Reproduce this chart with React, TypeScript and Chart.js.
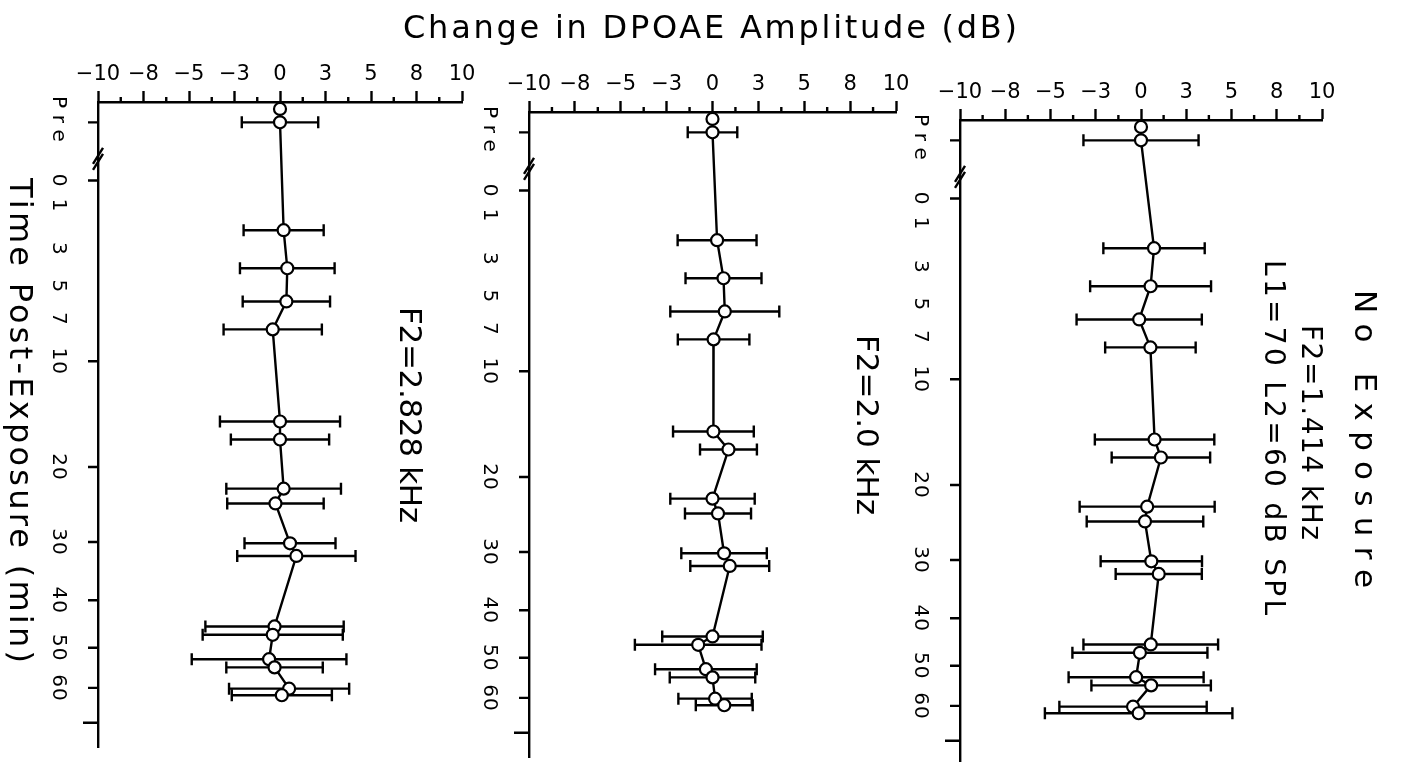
import React, { useEffect, useRef } from 'react';
import { Chart, LinearScale, registerables } from 'chart.js';

Chart.register(...registerables);

// ---------- axis transform: time axis is spaced as log10(t + 10) ----------
const TIME_SHIFT = 10;

class ShiftedLogScale extends LinearScale {
  static id = 'shiftedLog';
  getPixelForValue(value: number) {
    const a = Math.log10(this.min + TIME_SHIFT);
    const b = Math.log10(this.max + TIME_SHIFT);
    return this.getPixelForDecimal((Math.log10(value + TIME_SHIFT) - a) / (b - a));
  }
  getValueForPixel(pixel: number) {
    const a = Math.log10(this.min + TIME_SHIFT);
    const b = Math.log10(this.max + TIME_SHIFT);
    return Math.pow(10, a + this.getDecimalForPixel(pixel) * (b - a)) - TIME_SHIFT;
  }
}
Chart.register(ShiftedLogScale as any);

// ---------- data ----------
// measurement times (min); the two negative values are the "Pre" measurements
const TIMES = [-2.4, -2, 2.1, 4, 5.9, 7.7, 15.2, 17, 22.6, 24.5, 30.2, 32.2, 45.3, 47.1, 52.7, 54.7, 60.2, 62];

const F2_2828_MEAN = [0, 0, 0.2, 0.4, 0.35, -0.4, 0, 0, 0.2, -0.25, 0.55, 0.9, -0.3, -0.4, -0.6, -0.3, 0.5, 0.1];
const F2_2828_ERR = [0, 2.1, 2.2, 2.6, 2.4, 2.7, 3.3, 2.7, 3.15, 2.65, 2.5, 3.25, 3.8, 3.85, 4.25, 2.65, 3.3, 2.75];

const F2_2000_MEAN = [0, 0, 0.25, 0.6, 0.67, 0.06, 0.05, 0.87, 0, 0.3, 0.63, 0.94, 0, -0.78, -0.36, 0, 0.14, 0.64];
const F2_2000_ERR = [0, 1.35, 2.15, 2.07, 2.97, 1.95, 2.2, 1.55, 2.3, 1.8, 2.33, 2.15, 2.74, 3.45, 2.77, 2.33, 2.0, 1.55];

const F2_1414_MEAN = [0, 0, 0.72, 0.53, -0.1, 0.52, 0.75, 1.1, 0.34, 0.22, 0.57, 0.98, 0.54, -0.06, -0.27, 0.56, -0.44, -0.13];
const F2_1414_ERR = [0, 3.18, 2.8, 3.34, 3.46, 2.5, 3.3, 2.72, 3.73, 3.22, 2.8, 2.38, 3.72, 3.73, 3.73, 3.3, 4.07, 5.18];

const AMP_MIN = -10;
const AMP_MAX = 10;
const AMP_MAJOR_STEP = 2.5;
const AMP_MINOR_TICKS = [-8.75, -6.25, -3.75, -1.25, 1.25, 3.75, 6.25, 8.75];

const TIME_MIN = -2.6;
const TIME_MAX = 77.8;
const TIME_TICKS = [-2, 0, 10, 20, 30, 40, 50, 60, 70];
const TIME_LABEL_VALUES = [-2, 0, 1, 3, 5, 7, 10, 20, 30, 40, 50, 60];
const TIME_LABELS = ['Pre', '0', '1', '3', '5', '7', '10', '20', '30', '40', '50', '60'];
const BREAK_TIME = -0.8;

const TITLE = 'Change in DPOAE Amplitude (dB)';
const Y_TITLE = 'Time Post-Exposure (min)';

// ---------- layout / style ----------
const W = 1405;
const H = 780;
const X_BAND = 45;
const FAMILY = '"DejaVu Sans"';
const BIG_FONT = '32px ' + FAMILY;
const INK = '#000';
const LW = 2.4;

type TextItem = { text: string; font: string; rotated: boolean; x: number; y: number; end: number };

const PANELS = [
  {
    mean: F2_2828_MEAN, err: F2_2828_ERR,
    box: { left: 98, right: 462, top: 102, bottom: 747 },
    texts: [
      { text: TITLE, font: BIG_FONT, rotated: false, x: 403, y: 38, end: 1017 },
      { text: Y_TITLE, font: BIG_FONT, rotated: true, x: 10, y: 178, end: 663 },
      { text: 'F2=2.828 kHz', font: '31px ' + FAMILY, rotated: true, x: 400, y: 307, end: 523 },
    ] as TextItem[],
  },
  {
    mean: F2_2000_MEAN, err: F2_2000_ERR,
    box: { left: 529, right: 896, top: 112, bottom: 757 },
    texts: [
      { text: 'F2=2.0 kHz', font: '31px ' + FAMILY, rotated: true, x: 857, y: 335, end: 515 },
    ] as TextItem[],
  },
  {
    mean: F2_1414_MEAN, err: F2_1414_ERR,
    box: { left: 960, right: 1322, top: 120, bottom: 765 },
    texts: [
      { text: 'No Exposure', font: '31px ' + FAMILY, rotated: true, x: 1355, y: 290, end: 588 },
      { text: 'F2=1.414 kHz', font: '28px ' + FAMILY, rotated: true, x: 1302, y: 325, end: 540 },
      { text: 'L1=70 L2=60 dB SPL', font: '28px ' + FAMILY, rotated: true, x: 1265, y: 260, end: 615 },
    ] as TextItem[],
  },
];

function fmtAmp(v: number) {
  const r = Math.sign(v) * Math.round(Math.abs(v));
  return r < 0 ? '\u2212' + Math.abs(r) : String(r);
}

function drawFitted(ctx: CanvasRenderingContext2D, t: TextItem) {
  ctx.save();
  ctx.font = t.font;
  ctx.fillStyle = INK;
  ctx.textAlign = 'left';
  ctx.textBaseline = 'alphabetic';
  (ctx as any).letterSpacing = '0px';
  const natural = ctx.measureText(t.text).width;
  const span = t.rotated ? t.end - t.y : t.end - t.x;
  const n = Array.from(t.text).length;
  const sp = n > 1 ? (span - natural) / (n - 1) : 0;
  (ctx as any).letterSpacing = sp.toFixed(2) + 'px';
  if (t.rotated) {
    ctx.translate(t.x, t.y);
    ctx.rotate(Math.PI / 2);
    ctx.fillText(t.text, 0, 0);
  } else {
    ctx.fillText(t.text, t.x, t.y);
  }
  ctx.restore();
}

function makeDecor(panel: (typeof PANELS)[number]) {
  return {
    id: 'panelDecor',
    beforeDatasetsDraw(chart: any) {
      const ctx: CanvasRenderingContext2D = chart.ctx;
      const xs = chart.scales.x;
      const ys = chart.scales.y;
      ctx.save();
      ctx.strokeStyle = INK;
      ctx.lineWidth = LW;
      TIMES.forEach((t, i) => {
        const e = panel.err[i];
        if (!e) return;
        const y = ys.getPixelForValue(t);
        const x1 = xs.getPixelForValue(panel.mean[i] - e);
        const x2 = xs.getPixelForValue(panel.mean[i] + e);
        ctx.beginPath();
        ctx.moveTo(x1, y);
        ctx.lineTo(x2, y);
        ctx.moveTo(x1, y - 6);
        ctx.lineTo(x1, y + 6);
        ctx.moveTo(x2, y - 6);
        ctx.lineTo(x2, y + 6);
        ctx.stroke();
      });
      ctx.restore();
    },
    afterDraw(chart: any) {
      const ctx: CanvasRenderingContext2D = chart.ctx;
      const xs = chart.scales.x;
      const ys = chart.scales.y;
      const area = chart.chartArea;
      ctx.save();
      ctx.strokeStyle = INK;
      ctx.lineWidth = LW;
      // minor amplitude ticks
      ctx.beginPath();
      AMP_MINOR_TICKS.forEach((v) => {
        const x = xs.getPixelForValue(v);
        ctx.moveTo(x, area.top);
        ctx.lineTo(x, area.top - 5);
      });
      // time ticks
      TIME_TICKS.forEach((t, i) => {
        const y = ys.getPixelForValue(t);
        const len = i === TIME_TICKS.length - 1 ? 15 : 10;
        ctx.moveTo(area.left, y);
        ctx.lineTo(area.left - len, y);
      });
      ctx.stroke();
      // axis break
      const yb = ys.getPixelForValue(BREAK_TIME);
      ctx.beginPath();
      [-3, 3].forEach((d) => {
        ctx.moveTo(area.left - 5, yb + d + 8);
        ctx.lineTo(area.left + 5, yb + d - 8);
      });
      ctx.stroke();
      // rotated time labels
      ctx.fillStyle = INK;
      ctx.font = '20px ' + FAMILY;
      ctx.textAlign = 'center';
      ctx.textBaseline = 'alphabetic';
      TIME_LABELS.forEach((lab, i) => {
        const y = ys.getPixelForValue(TIME_LABEL_VALUES[i]);
        ctx.save();
        (ctx as any).letterSpacing = /^[A-Za-z]/.test(lab) ? '7px' : '1px';
        ctx.translate(area.left - 45, y);
        ctx.rotate(Math.PI / 2);
        ctx.fillText(lab, 0, 0);
        ctx.restore();
      });
      ctx.restore();
      panel.texts.forEach((t) => drawFitted(ctx, t));
    },
  };
}

function Panel({ panel }: { panel: (typeof PANELS)[number] }) {
  const ref = useRef<HTMLCanvasElement>(null);
  useEffect(() => {
    const b = panel.box;
    const chart = new Chart(ref.current as HTMLCanvasElement, {
      type: 'scatter',
      data: {
        datasets: [
          {
            data: TIMES.map((t, i) => ({ x: panel.mean[i], y: t })),
            showLine: true,
            borderColor: INK,
            borderWidth: LW,
            tension: 0,
            pointRadius: 6,
            pointBackgroundColor: '#fff',
            pointBorderColor: INK,
            pointBorderWidth: 2.2,
            clip: false,
          } as any,
        ],
      },
      options: {
        responsive: false,
        maintainAspectRatio: false,
        animation: false,
        devicePixelRatio: 1,
        events: [],
        layout: {
          padding: { left: b.left, right: W - b.right, top: b.top - X_BAND, bottom: H - b.bottom },
        },
        plugins: { legend: { display: false }, tooltip: { enabled: false }, title: { display: false } },
        scales: {
          x: {
            type: 'linear',
            position: 'top',
            min: AMP_MIN,
            max: AMP_MAX,
            afterFit: (s: any) => { s.height = X_BAND; },
            ticks: {
              stepSize: AMP_MAJOR_STEP,
              autoSkip: false,
              maxRotation: 0,
              minRotation: 0,
              padding: 4,
              color: INK,
              font: { family: 'DejaVu Sans', size: 21 },
              callback: (v: any) => fmtAmp(Number(v)),
            },
            grid: { display: true, drawOnChartArea: false, drawTicks: true, tickLength: 11, tickWidth: LW, tickColor: INK, color: INK },
            border: { display: true, color: INK, width: LW },
          },
          y: {
            type: 'shiftedLog' as any,
            position: 'left',
            reverse: true,
            min: TIME_MIN,
            max: TIME_MAX,
            afterFit: (s: any) => { s.width = 0; },
            ticks: { display: false },
            grid: { display: false, drawTicks: false },
            border: { display: true, color: INK, width: LW },
          } as any,
        },
      },
      plugins: [makeDecor(panel)],
    } as any);
    return () => chart.destroy();
  }, [panel]);
  return (
    <canvas
      ref={ref}
      width={W}
      height={H}
      style={{ position: 'absolute', left: 0, top: 0, width: W, height: H }}
    />
  );
}

export default function App() {
  return (
    <div style={{ position: 'fixed', left: 0, top: 0, width: W, height: 762, overflow: 'hidden', background: '#fff' }}>
      {PANELS.map((p, i) => (
        <Panel key={i} panel={p} />
      ))}
    </div>
  );
}
